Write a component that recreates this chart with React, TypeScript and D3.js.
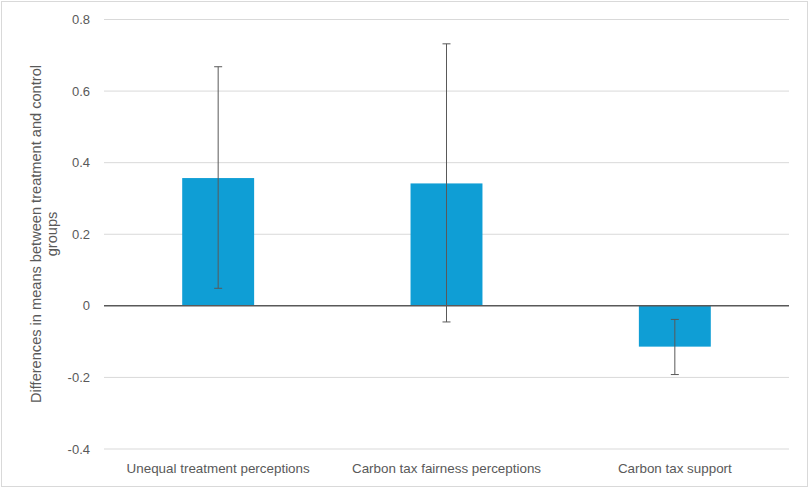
import React, { useEffect, useRef } from "react";
import * as d3 from "d3";

const categories = [
  "Unequal treatment perceptions",
  "Carbon tax fairness perceptions",
  "Carbon tax support",
];
const means = [0.357, 0.342, -0.114];
const ciLow = [0.049, -0.045, -0.192];
const ciHigh = [0.668, 0.732, -0.038];
const yTicks = [-0.4, -0.2, 0, 0.2, 0.4, 0.6, 0.8];
const yTickLabels = ["-0.4", "-0.2", "0", "0.2", "0.4", "0.6", "0.8"];
const yTitleLines = ["Differences in means between treatment and control", "groups"];

export default function App() {
  const ref = useRef<SVGSVGElement>(null);
  useEffect(() => {
    document.body.style.margin = "0";
    const W = 810, H = 490;
    const left = 104, right = 789, top = 19.5, bottom = 449;
    const svg = d3.select(ref.current);
    svg.selectAll("*").remove();
    const font = "'Liberation Sans', Arial, sans-serif";

    svg.append("rect").attr("x", 1.5).attr("y", 1.5).attr("width", W - 4).attr("height", H - 5)
      .attr("fill", "#fff").attr("stroke", "#d9d9d9").attr("stroke-width", 1);

    const y = d3.scaleLinear().domain([-0.4, 0.8]).range([bottom, top]);
    const x = d3.scaleBand<string>().domain(categories).range([left, right])
      .paddingInner(0.685).paddingOuter(0.3425);

    // gridlines
    svg.append("g").selectAll("line").data(yTicks.filter(t => t !== 0)).join("line")
      .attr("x1", left).attr("x2", right)
      .attr("y1", d => y(d)).attr("y2", d => y(d))
      .attr("stroke", "#d9d9d9").attr("stroke-width", 1);

    // tick labels
    svg.append("g").selectAll("text").data(yTicks).join("text")
      .attr("x", 90).attr("y", d => y(d)).attr("dy", "0.35em")
      .attr("text-anchor", "end").attr("font-family", font).attr("font-size", 13)
      .attr("fill", "#595959").text((d, i) => yTickLabels[i]);

    // bars
    svg.append("g").selectAll("rect").data(categories).join("rect")
      .attr("x", d => x(d)!).attr("width", x.bandwidth())
      .attr("y", (d, i) => y(Math.max(0, means[i])))
      .attr("height", (d, i) => Math.abs(y(means[i]) - y(0)))
      .attr("fill", "#0F9ED5");

    // zero line
    svg.append("line").attr("x1", left).attr("x2", right).attr("y1", y(0)).attr("y2", y(0))
      .attr("stroke", "#595959").attr("stroke-width", 1.5);

    // error bars
    const eg = svg.append("g").attr("stroke", "#595959").attr("stroke-width", 1);
    categories.forEach((c, i) => {
      const cx = x(c)! + x.bandwidth() / 2;
      eg.append("line").attr("x1", cx).attr("x2", cx).attr("y1", y(ciLow[i])).attr("y2", y(ciHigh[i]));
      [ciLow[i], ciHigh[i]].forEach(v => {
        eg.append("line").attr("x1", cx - 4).attr("x2", cx + 4).attr("y1", y(v)).attr("y2", y(v));
      });
    });

    // x labels
    svg.append("g").selectAll("text").data(categories).join("text")
      .attr("x", d => x(d)! + x.bandwidth() / 2).attr("y", 473)
      .attr("text-anchor", "middle").attr("font-family", font).attr("font-size", 13.4)
      .attr("fill", "#595959").text(d => d);

    // y title
    const cy = 234;
    const t = svg.append("text").attr("transform", `translate(0,${cy}) rotate(-90)`)
      .attr("text-anchor", "middle").attr("font-family", font).attr("font-size", 14.6)
      .attr("fill", "#595959");
    yTitleLines.forEach((l, i) => {
      t.append("tspan").attr("x", 0).attr("y", 41 + i * 16).text(l);
    });
  }, []);
  return <svg ref={ref} width={810} height={490} style={{ display: "block" }} />;
}
